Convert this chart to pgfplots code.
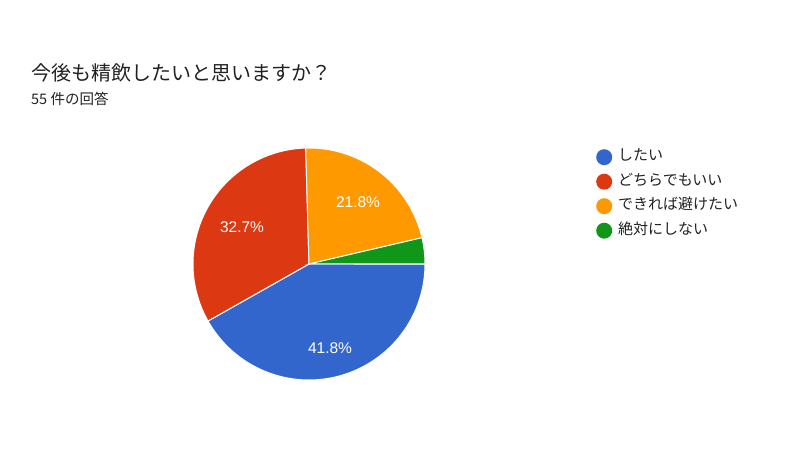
\documentclass[border=0pt]{standalone}
\usepackage{pgfplots}
\pgfplotsset{compat=1.18}
\usepackage{fontspec}
\setmainfont{Noto Sans CJK JP}
\newfontfamily\numfont{Liberation Sans}

\definecolor{cblue}{HTML}{3366CC}
\definecolor{cred}{HTML}{DC3912}
\definecolor{corange}{HTML}{FF9900}
\definecolor{cgreen}{HTML}{109618}
\definecolor{txt}{HTML}{212121}

\begin{document}
\begin{tikzpicture}
% answers out of 55
\pgfmathsetmacro\nA{23}
\pgfmathsetmacro\nB{18}
\pgfmathsetmacro\nC{12}
\pgfmathsetmacro\nD{2}
\pgfmathsetmacro\aA{-\nA/55*360}
\pgfmathsetmacro\aB{\aA-\nB/55*360}
\pgfmathsetmacro\aC{\aB-\nC/55*360}
\pgfmathsetmacro\aD{\aC-\nD/55*360}
\begin{axis}[
  width=800pt, height=449pt, scale only axis,
  xmin=0, xmax=800, ymin=0, ymax=449,
  hide axis, clip=false,
  legend style={at={(axis cs:593,302)}, anchor=north west, draw=none, fill=none,
    font=\fontsize{15}{15}\selectfont\color{txt},
    nodes={text height=11pt, text depth=4pt, inner sep=0pt},
    row sep=8.5pt, column sep=6pt},
  legend cell align=left,
  legend image code/.code={\fill[#1,draw=none] (4pt,0) circle (8pt);},
]
\path (rel axis cs:0,0) rectangle (rel axis cs:1,1);
\addplot[fill=cblue, draw=white, line width=1pt, domain=\aA:0, samples=90]
  ({309+116*cos(x)},{185+116*sin(x)}) -- (axis cs:309,185) -- cycle;
\addplot[fill=cred, draw=white, line width=1pt, domain=\aB:\aA, samples=90]
  ({309+116*cos(x)},{185+116*sin(x)}) -- (axis cs:309,185) -- cycle;
\addplot[fill=corange, draw=white, line width=1pt, domain=\aC:\aB, samples=60]
  ({309+116*cos(x)},{185+116*sin(x)}) -- (axis cs:309,185) -- cycle;
\addplot[fill=cgreen, draw=white, line width=1pt, domain=\aD:\aC, samples=20]
  ({309+116*cos(x)},{185+116*sin(x)}) -- (axis cs:309,185) -- cycle;
\legend{したい, どちらでもいい, できれば避けたい, 絶対にしない}

\node[anchor=west, text=txt, font=\fontsize{20}{20}\selectfont, inner sep=0pt] at (axis cs:31,376) {今後も精飲したいと思いますか？};
\node[anchor=west, text=txt, font=\fontsize{14.5}{14.5}\selectfont, inner sep=0pt] at (axis cs:31,350) {55 件の回答};

\node[text=white, font=\numfont\fontsize{15.5}{15.5}\selectfont] at (axis cs:330,101) {41.8\%};
\node[text=white, font=\numfont\fontsize{15.5}{15.5}\selectfont] at (axis cs:242,222) {32.7\%};
\node[text=white, font=\numfont\fontsize{15.5}{15.5}\selectfont] at (axis cs:358,247) {21.8\%};
\end{axis}
\end{tikzpicture}
\end{document}
